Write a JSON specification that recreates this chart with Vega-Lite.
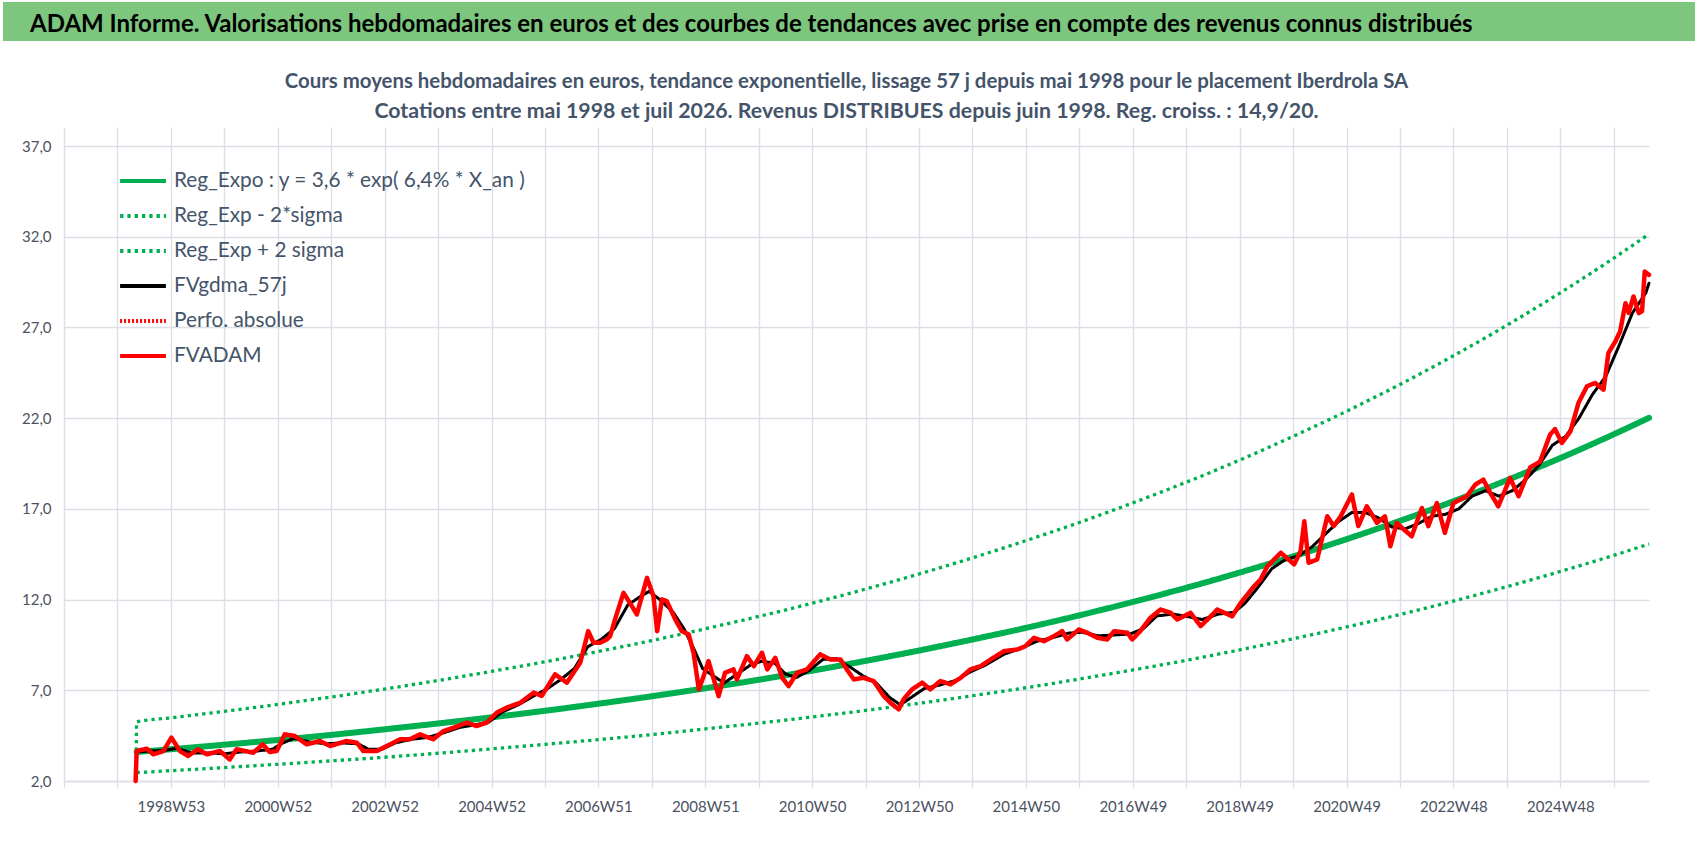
{
  "$schema": "https://vega.github.io/schema/vega-lite/v6.json",
  "background": "white",
  "padding": {"left": 0, "top": 2, "right": 0, "bottom": 0},
  "spacing": 86,
  "bounds": "flush",
  "config": {
    "font": "Lato",
    "view": {"stroke": null},
    "axis": {
      "gridColor": "#DCDFE5",
      "gridWidth": 1.4,
      "labelFont": "Lato",
      "labelColor": "#4A5261"
    }
  },
  "datasets": {
    "reg": [
      {"t": 1998.35, "hi": 2.46},
      {"t": 1998.36, "mid": 3.60, "hi": 5.26, "lo": 2.46},
      {"t": 1999, "mid": 3.75, "hi": 5.48, "lo": 2.57},
      {"t": 2000, "mid": 4.00, "hi": 5.84, "lo": 2.74},
      {"t": 2001, "mid": 4.26, "hi": 6.22, "lo": 2.92},
      {"t": 2002, "mid": 4.54, "hi": 6.63, "lo": 3.11},
      {"t": 2003, "mid": 4.85, "hi": 7.07, "lo": 3.31},
      {"t": 2004, "mid": 5.17, "hi": 7.54, "lo": 3.53},
      {"t": 2005, "mid": 5.51, "hi": 8.04, "lo": 3.77},
      {"t": 2006, "mid": 5.87, "hi": 8.57, "lo": 4.02},
      {"t": 2007, "mid": 6.26, "hi": 9.14, "lo": 4.28},
      {"t": 2008, "mid": 6.67, "hi": 9.74, "lo": 4.56},
      {"t": 2009, "mid": 7.11, "hi": 10.39, "lo": 4.87},
      {"t": 2010, "mid": 7.58, "hi": 11.07, "lo": 5.19},
      {"t": 2011, "mid": 8.08, "hi": 11.80, "lo": 5.53},
      {"t": 2012, "mid": 8.62, "hi": 12.58, "lo": 5.89},
      {"t": 2013, "mid": 9.19, "hi": 13.41, "lo": 6.28},
      {"t": 2014, "mid": 9.80, "hi": 14.30, "lo": 6.70},
      {"t": 2015, "mid": 10.44, "hi": 15.25, "lo": 7.14},
      {"t": 2016, "mid": 11.13, "hi": 16.25, "lo": 7.62},
      {"t": 2017, "mid": 11.87, "hi": 17.33, "lo": 8.12},
      {"t": 2018, "mid": 12.65, "hi": 18.47, "lo": 8.65},
      {"t": 2019, "mid": 13.49, "hi": 19.69, "lo": 9.23},
      {"t": 2020, "mid": 14.38, "hi": 21.00, "lo": 9.84},
      {"t": 2021, "mid": 15.33, "hi": 22.38, "lo": 10.49},
      {"t": 2022, "mid": 16.34, "hi": 23.86, "lo": 11.18},
      {"t": 2023, "mid": 17.42, "hi": 25.44, "lo": 11.92},
      {"t": 2024, "mid": 18.58, "hi": 27.12, "lo": 12.71},
      {"t": 2025, "mid": 19.80, "hi": 28.91, "lo": 13.55},
      {"t": 2026, "mid": 21.11, "hi": 30.82, "lo": 14.44},
      {"t": 2026.66, "mid": 22.02, "hi": 32.15, "lo": 15.06}
    ],
    "gdma": [
      {"t": 1998.34, "v": 2.0},
      {"t": 1998.36, "v": 3.6},
      {"t": 1998.6, "v": 3.65},
      {"t": 1998.9, "v": 3.7},
      {"t": 1999.1, "v": 3.8},
      {"t": 1999.4, "v": 3.55},
      {"t": 1999.7, "v": 3.55},
      {"t": 2000.0, "v": 3.5},
      {"t": 2000.3, "v": 3.6},
      {"t": 2000.6, "v": 3.65},
      {"t": 2000.9, "v": 3.75},
      {"t": 2001.1, "v": 4.1},
      {"t": 2001.3, "v": 4.35},
      {"t": 2001.6, "v": 4.15},
      {"t": 2001.9, "v": 4.05},
      {"t": 2002.2, "v": 4.1},
      {"t": 2002.5, "v": 4.05},
      {"t": 2002.7, "v": 3.75},
      {"t": 2002.95, "v": 3.75},
      {"t": 2003.2, "v": 4.1},
      {"t": 2003.5, "v": 4.3},
      {"t": 2003.8, "v": 4.4},
      {"t": 2004.1, "v": 4.65},
      {"t": 2004.4, "v": 4.95},
      {"t": 2004.7, "v": 5.1},
      {"t": 2004.95, "v": 5.25},
      {"t": 2005.2, "v": 5.8},
      {"t": 2005.5, "v": 6.2},
      {"t": 2005.8, "v": 6.7},
      {"t": 2006.05, "v": 7.1},
      {"t": 2006.3, "v": 7.6},
      {"t": 2006.55, "v": 8.2},
      {"t": 2006.8, "v": 9.4},
      {"t": 2007.05, "v": 9.8},
      {"t": 2007.3, "v": 10.4},
      {"t": 2007.55, "v": 11.7},
      {"t": 2007.8, "v": 12.2},
      {"t": 2007.95, "v": 12.45},
      {"t": 2008.15, "v": 12.0},
      {"t": 2008.4, "v": 11.3},
      {"t": 2008.6, "v": 10.4},
      {"t": 2008.8, "v": 9.2},
      {"t": 2008.95, "v": 8.2},
      {"t": 2009.15, "v": 7.8},
      {"t": 2009.35, "v": 7.4},
      {"t": 2009.6, "v": 7.9},
      {"t": 2009.85, "v": 8.4},
      {"t": 2010.05, "v": 8.6},
      {"t": 2010.3, "v": 8.5},
      {"t": 2010.5, "v": 7.9},
      {"t": 2010.7, "v": 7.7},
      {"t": 2010.95, "v": 8.1},
      {"t": 2011.2, "v": 8.7},
      {"t": 2011.45, "v": 8.75},
      {"t": 2011.7, "v": 8.3},
      {"t": 2011.95, "v": 7.8},
      {"t": 2012.2, "v": 7.4},
      {"t": 2012.45, "v": 6.6},
      {"t": 2012.65, "v": 6.2},
      {"t": 2012.85, "v": 6.6},
      {"t": 2013.1, "v": 7.1},
      {"t": 2013.4, "v": 7.3},
      {"t": 2013.7, "v": 7.55},
      {"t": 2013.95, "v": 8.0},
      {"t": 2014.25, "v": 8.4},
      {"t": 2014.6, "v": 9.0},
      {"t": 2014.9, "v": 9.3},
      {"t": 2015.2, "v": 9.7},
      {"t": 2015.5, "v": 9.9},
      {"t": 2015.8, "v": 10.15},
      {"t": 2016.05, "v": 10.2},
      {"t": 2016.35, "v": 10.0},
      {"t": 2016.65, "v": 10.05},
      {"t": 2016.95, "v": 10.1},
      {"t": 2017.2, "v": 10.4},
      {"t": 2017.45, "v": 11.1},
      {"t": 2017.75, "v": 11.2},
      {"t": 2018.05, "v": 11.05},
      {"t": 2018.3, "v": 10.9},
      {"t": 2018.6, "v": 11.2},
      {"t": 2018.9, "v": 11.3},
      {"t": 2019.1, "v": 11.8},
      {"t": 2019.35, "v": 12.7},
      {"t": 2019.6, "v": 13.7},
      {"t": 2019.85, "v": 14.2},
      {"t": 2020.1, "v": 14.4},
      {"t": 2020.35, "v": 14.9},
      {"t": 2020.6, "v": 15.6},
      {"t": 2020.85, "v": 16.3},
      {"t": 2021.1, "v": 16.8},
      {"t": 2021.35, "v": 16.8},
      {"t": 2021.6, "v": 16.5},
      {"t": 2021.85, "v": 16.0},
      {"t": 2022.1, "v": 15.9},
      {"t": 2022.35, "v": 16.2},
      {"t": 2022.6, "v": 16.6},
      {"t": 2022.85, "v": 16.7},
      {"t": 2023.1, "v": 17.0},
      {"t": 2023.35, "v": 17.7},
      {"t": 2023.6, "v": 18.0},
      {"t": 2023.85, "v": 17.7},
      {"t": 2024.1, "v": 18.0},
      {"t": 2024.35, "v": 18.6},
      {"t": 2024.6, "v": 19.4},
      {"t": 2024.85, "v": 20.5},
      {"t": 2025.1, "v": 21.0},
      {"t": 2025.35, "v": 22.0},
      {"t": 2025.6, "v": 23.3},
      {"t": 2025.85, "v": 24.3},
      {"t": 2026.1, "v": 26.0},
      {"t": 2026.35, "v": 27.8},
      {"t": 2026.6, "v": 28.9},
      {"t": 2026.66, "v": 29.44}
    ],
    "adam": [
      {"t": 1998.34, "v": 2.0},
      {"t": 1998.36, "v": 3.65},
      {"t": 1998.55, "v": 3.78},
      {"t": 1998.67, "v": 3.47},
      {"t": 1998.86, "v": 3.65},
      {"t": 1999.01, "v": 4.39},
      {"t": 1999.17, "v": 3.65},
      {"t": 1999.32, "v": 3.38},
      {"t": 1999.51, "v": 3.75},
      {"t": 1999.67, "v": 3.47},
      {"t": 1999.92, "v": 3.65},
      {"t": 2000.10, "v": 3.19},
      {"t": 2000.23, "v": 3.75},
      {"t": 2000.54, "v": 3.56},
      {"t": 2000.72, "v": 4.02},
      {"t": 2000.85, "v": 3.6},
      {"t": 2000.98, "v": 3.65},
      {"t": 2001.13, "v": 4.57},
      {"t": 2001.32, "v": 4.48},
      {"t": 2001.54, "v": 4.02},
      {"t": 2001.79, "v": 4.20},
      {"t": 2001.98, "v": 3.93},
      {"t": 2002.29, "v": 4.20},
      {"t": 2002.48, "v": 4.11},
      {"t": 2002.60, "v": 3.65},
      {"t": 2002.85, "v": 3.65},
      {"t": 2003.04, "v": 3.93},
      {"t": 2003.29, "v": 4.30},
      {"t": 2003.47, "v": 4.30},
      {"t": 2003.66, "v": 4.57},
      {"t": 2003.91, "v": 4.30},
      {"t": 2004.10, "v": 4.75},
      {"t": 2004.29, "v": 4.94},
      {"t": 2004.54, "v": 5.22},
      {"t": 2004.72, "v": 5.03},
      {"t": 2004.91, "v": 5.22},
      {"t": 2005.10, "v": 5.77},
      {"t": 2005.28, "v": 6.04},
      {"t": 2005.54, "v": 6.32},
      {"t": 2005.79, "v": 6.87},
      {"t": 2005.94, "v": 6.69},
      {"t": 2006.19, "v": 7.88},
      {"t": 2006.41, "v": 7.42},
      {"t": 2006.66, "v": 8.52},
      {"t": 2006.81, "v": 10.26},
      {"t": 2006.91, "v": 9.62},
      {"t": 2007.03, "v": 9.62},
      {"t": 2007.16, "v": 9.81},
      {"t": 2007.22, "v": 9.98},
      {"t": 2007.31, "v": 10.90},
      {"t": 2007.47, "v": 12.37},
      {"t": 2007.59, "v": 11.82},
      {"t": 2007.72, "v": 11.18},
      {"t": 2007.91, "v": 13.20},
      {"t": 2008.03, "v": 12.19},
      {"t": 2008.10, "v": 10.26},
      {"t": 2008.19, "v": 12.01},
      {"t": 2008.28, "v": 11.91},
      {"t": 2008.44, "v": 10.90},
      {"t": 2008.56, "v": 10.26},
      {"t": 2008.69, "v": 10.08},
      {"t": 2008.78, "v": 9.07},
      {"t": 2008.88, "v": 7.05},
      {"t": 2008.97, "v": 7.78},
      {"t": 2009.06, "v": 8.61},
      {"t": 2009.16, "v": 7.60},
      {"t": 2009.25, "v": 6.68},
      {"t": 2009.37, "v": 7.97},
      {"t": 2009.53, "v": 8.15},
      {"t": 2009.59, "v": 7.60},
      {"t": 2009.78, "v": 8.88},
      {"t": 2009.91, "v": 8.33},
      {"t": 2010.06, "v": 9.07},
      {"t": 2010.16, "v": 8.15},
      {"t": 2010.31, "v": 8.79},
      {"t": 2010.44, "v": 7.69},
      {"t": 2010.56, "v": 7.23},
      {"t": 2010.72, "v": 7.97},
      {"t": 2010.90, "v": 8.15},
      {"t": 2011.15, "v": 8.98},
      {"t": 2011.34, "v": 8.70},
      {"t": 2011.53, "v": 8.70},
      {"t": 2011.65, "v": 8.15},
      {"t": 2011.78, "v": 7.60},
      {"t": 2011.96, "v": 7.69},
      {"t": 2012.15, "v": 7.51},
      {"t": 2012.34, "v": 6.68},
      {"t": 2012.46, "v": 6.32},
      {"t": 2012.62, "v": 5.95},
      {"t": 2012.71, "v": 6.50},
      {"t": 2012.87, "v": 7.05},
      {"t": 2013.06, "v": 7.42},
      {"t": 2013.21, "v": 7.05},
      {"t": 2013.40, "v": 7.51},
      {"t": 2013.59, "v": 7.33},
      {"t": 2013.78, "v": 7.69},
      {"t": 2013.96, "v": 8.15},
      {"t": 2014.15, "v": 8.33},
      {"t": 2014.34, "v": 8.70},
      {"t": 2014.59, "v": 9.16},
      {"t": 2014.84, "v": 9.25},
      {"t": 2014.99, "v": 9.43},
      {"t": 2015.15, "v": 9.89},
      {"t": 2015.34, "v": 9.71},
      {"t": 2015.52, "v": 9.98},
      {"t": 2015.68, "v": 10.26},
      {"t": 2015.77, "v": 9.80},
      {"t": 2015.99, "v": 10.35},
      {"t": 2016.15, "v": 10.17},
      {"t": 2016.34, "v": 9.89},
      {"t": 2016.52, "v": 9.80},
      {"t": 2016.65, "v": 10.26},
      {"t": 2016.90, "v": 10.17},
      {"t": 2016.99, "v": 9.80},
      {"t": 2017.14, "v": 10.26},
      {"t": 2017.33, "v": 11.00},
      {"t": 2017.52, "v": 11.45},
      {"t": 2017.71, "v": 11.27},
      {"t": 2017.83, "v": 10.90},
      {"t": 2018.08, "v": 11.27},
      {"t": 2018.27, "v": 10.54},
      {"t": 2018.46, "v": 11.08},
      {"t": 2018.58, "v": 11.45},
      {"t": 2018.86, "v": 11.08},
      {"t": 2019.02, "v": 11.82},
      {"t": 2019.27, "v": 12.74},
      {"t": 2019.39, "v": 13.10},
      {"t": 2019.52, "v": 13.84},
      {"t": 2019.77, "v": 14.58},
      {"t": 2020.02, "v": 13.94},
      {"t": 2020.14, "v": 14.67},
      {"t": 2020.21, "v": 16.32},
      {"t": 2020.29, "v": 14.03},
      {"t": 2020.45, "v": 14.21},
      {"t": 2020.64, "v": 16.59},
      {"t": 2020.76, "v": 16.05},
      {"t": 2020.89, "v": 16.59},
      {"t": 2021.10, "v": 17.79},
      {"t": 2021.22, "v": 16.05},
      {"t": 2021.38, "v": 17.14},
      {"t": 2021.57, "v": 16.23},
      {"t": 2021.72, "v": 16.59},
      {"t": 2021.82, "v": 14.94},
      {"t": 2021.94, "v": 16.23},
      {"t": 2022.07, "v": 15.87},
      {"t": 2022.22, "v": 15.49},
      {"t": 2022.41, "v": 17.05},
      {"t": 2022.53, "v": 16.05},
      {"t": 2022.69, "v": 17.32},
      {"t": 2022.84, "v": 15.68},
      {"t": 2023.00, "v": 17.32},
      {"t": 2023.25, "v": 17.70},
      {"t": 2023.41, "v": 18.34},
      {"t": 2023.56, "v": 18.61},
      {"t": 2023.69, "v": 17.88},
      {"t": 2023.84, "v": 17.14},
      {"t": 2024.06, "v": 18.70},
      {"t": 2024.22, "v": 17.70},
      {"t": 2024.44, "v": 19.30},
      {"t": 2024.62, "v": 19.60},
      {"t": 2024.81, "v": 21.10},
      {"t": 2024.90, "v": 21.40},
      {"t": 2025.03, "v": 20.63},
      {"t": 2025.19, "v": 21.27},
      {"t": 2025.34, "v": 22.84},
      {"t": 2025.50, "v": 23.76},
      {"t": 2025.65, "v": 23.94},
      {"t": 2025.81, "v": 23.57},
      {"t": 2025.90, "v": 25.59},
      {"t": 2026.03, "v": 26.23},
      {"t": 2026.12, "v": 26.78},
      {"t": 2026.22, "v": 28.34},
      {"t": 2026.28, "v": 27.80},
      {"t": 2026.37, "v": 28.71},
      {"t": 2026.47, "v": 27.79},
      {"t": 2026.53, "v": 27.90},
      {"t": 2026.58, "v": 30.08},
      {"t": 2026.66, "v": 29.90}
    ]
  },
  "vconcat": [
    {
      "width": 1692,
      "height": 39,
      "view": {"fill": "#7CC67E", "stroke": null},
      "title": {
        "text": "ADAM Informe. Valorisations hebdomadaires en euros et des courbes de tendances avec prise en compte des revenus connus distribués",
        "anchor": "start",
        "frame": "group",
        "offset": -35,
        "dx": 27,
        "font": "Lato",
        "fontSize": 24,
        "fontWeight": "bold",
        "color": "#000000"
      },
      "data": {"values": [{"k": 1}]},
      "mark": {"type": "point", "opacity": 0},
      "encoding": {}
    },
    {
      "spacing": 0,
      "hconcat": [
        {
          "width": 1,
          "height": 1,
          "data": {"values": [{"k": 1}]},
          "mark": {"type": "point", "opacity": 0},
          "encoding": {}
        },
        {
          "width": 1585,
          "height": 654,
          "title": {
            "text": "Cours moyens hebdomadaires en euros, tendance exponentielle, lissage 57 j depuis mai 1998 pour le placement Iberdrola SA",
            "subtitle": "Cotations entre mai 1998 et juil 2026. Revenus DISTRIBUES depuis juin 1998. Reg. croiss. : 14,9/20.",
            "anchor": "middle",
            "font": "Lato",
            "fontSize": 20.4,
            "fontWeight": "bold",
            "color": "#44546A",
            "subtitleFont": "Lato",
            "subtitleFontSize": 21.3,
            "subtitleFontWeight": "bold",
            "subtitleColor": "#44546A",
            "subtitlePadding": 8,
            "offset": 5,
            "dx": -10
          },
          "encoding": {
            "x": {
              "field": "t",
              "type": "quantitative",
              "scale": {"domain": [1997, 2026.66], "nice": false, "zero": false},
              "axis": {
                "title": null,
                "values": [1997, 1998, 1999, 2000, 2001, 2002, 2003, 2004, 2005, 2006, 2007, 2008, 2009, 2010, 2011, 2012, 2013, 2014, 2015, 2016, 2017, 2018, 2019, 2020, 2021, 2022, 2023, 2024, 2025, 2026],
                "labelExpr": "datum.value >= 1999 && datum.value <= 2025 && (datum.value - 1999) % 2 == 0 ? ['1998W53','2000W52','2002W52','2004W52','2006W51','2008W51','2010W50','2012W50','2014W50','2016W49','2018W49','2020W49','2022W48','2024W48'][(datum.value - 1999) / 2] : ''",
                "ticks": true,
                "tickSize": 6,
                "tickColor": "#DCDFE5",
                "tickWidth": 1.4,
                "domain": true,
                "domainColor": "#DCDFE5",
                "domainWidth": 1.4,
                "labelFontSize": 15,
                "labelPadding": 12,
                "labelOverlap": false,
                "labelFlush": false,
                "labelBound": false
              }
            }
          },
          "layer": [
            {
              "data": {"name": "reg"},
              "mark": {"type": "line", "strokeWidth": 6, "strokeCap": "round", "interpolate": "monotone"},
              "encoding": {
                "y": {
                  "field": "mid",
                  "type": "quantitative",
                  "scale": {"domain": [2, 38.05], "nice": false, "zero": false},
                  "axis": {
                    "title": null,
                    "domain": false,
                    "ticks": false,
                    "tickSize": 0,
                    "values": [2, 7, 12, 17, 22, 27, 32, 37],
                    "labelExpr": "replace(format(datum.value, '.1f'), '.', ',')",
                    "labelFontSize": 15,
                    "labelPadding": 13,
                    "minExtent": 57
                  }
                },
                "color": {
                  "datum": "Reg_Expo : y = 3,6 * exp( 6,4% *  X_an )",
                  "scale": {
                    "domain": ["Reg_Expo : y = 3,6 * exp( 6,4% *  X_an )", "Reg_Exp - 2*sigma", "Reg_Exp + 2 sigma", "FVgdma_57j", "Perfo. absolue", "FVADAM"],
                    "range": ["#00B050", "#00B050", "#00B050", "#000000", "#FF0000", "#FF0000"]
                  },
                  "legend": {
                    "title": null,
                    "orient": "none",
                    "legendX": 115,
                    "legendY": 154,
                    "symbolType": "stroke",
                    "symbolSize": 2100,
                    "symbolStrokeWidth": 4,
                    "labelFont": "Lato",
                    "labelFontSize": 20.8,
                    "labelColor": "#44546A",
                    "labelOffset": 6,
                    "labelLimit": 600,
                    "rowPadding": 0
                  }
                },
                "strokeDash": {
                  "datum": "Reg_Expo : y = 3,6 * exp( 6,4% *  X_an )",
                  "scale": {
                    "domain": ["Reg_Expo : y = 3,6 * exp( 6,4% *  X_an )", "Reg_Exp - 2*sigma", "Reg_Exp + 2 sigma", "FVgdma_57j", "Perfo. absolue", "FVADAM"],
                    "range": [[1, 0], [3.3, 4], [3.3, 4], [1, 0], [2, 2], [1, 0]]
                  },
                  "legend": {"title": null}
                }
              }
            },
            {
              "data": {"name": "reg"},
              "mark": {"type": "line", "strokeWidth": 3.3, "strokeCap": "butt", "interpolate": "monotone"},
              "encoding": {
                "y": {"field": "lo", "type": "quantitative"},
                "color": {"datum": "Reg_Exp - 2*sigma"},
                "strokeDash": {"datum": "Reg_Exp - 2*sigma"}
              }
            },
            {
              "data": {"name": "reg"},
              "mark": {"type": "line", "strokeWidth": 3.3, "strokeCap": "butt", "interpolate": "monotone"},
              "encoding": {
                "y": {"field": "hi", "type": "quantitative"},
                "color": {"datum": "Reg_Exp + 2 sigma"},
                "strokeDash": {"datum": "Reg_Exp + 2 sigma"}
              }
            },
            {
              "data": {"name": "gdma"},
              "mark": {"type": "line", "strokeWidth": 3, "strokeCap": "round", "strokeJoin": "round"},
              "encoding": {
                "y": {"field": "v", "type": "quantitative"},
                "color": {"datum": "FVgdma_57j"},
                "strokeDash": {"datum": "FVgdma_57j"}
              }
            },
            {
              "data": {"name": "adam"},
              "mark": {"type": "line", "strokeWidth": 4.5, "strokeCap": "round", "strokeJoin": "round"},
              "encoding": {
                "y": {"field": "v", "type": "quantitative"},
                "color": {"datum": "FVADAM"},
                "strokeDash": {"datum": "FVADAM"}
              }
            }
          ]
        }
      ]
    }
  ]
}
